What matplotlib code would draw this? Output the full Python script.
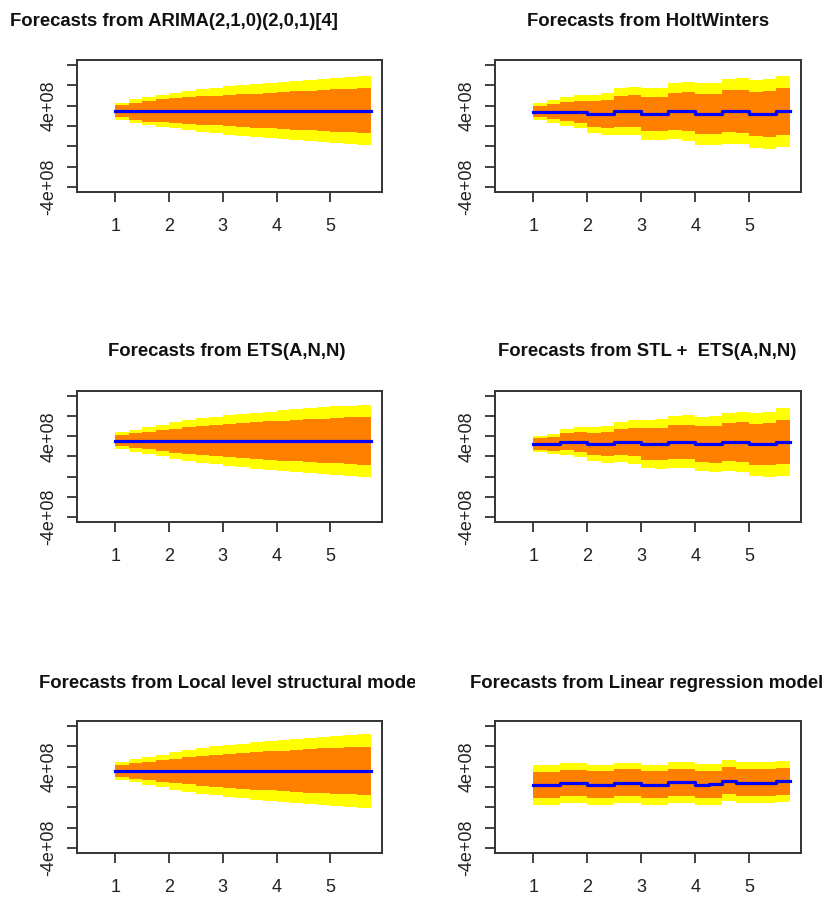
import numpy as np
import matplotlib
matplotlib.use("Agg")
import matplotlib.pyplot as plt
from matplotlib.transforms import Bbox, TransformedBbox

plt.rcParams['font.family'] = ['Liberation Sans', 'DejaVu Sans']

# forecast horizon: quarterly steps, values in units of 1e8
quarters = np.arange(1, 5.75, 0.25)
quarter_end = 5.75

titles = [
    "Forecasts from ARIMA(2,1,0)(2,0,1)[4]",
    "Forecasts from HoltWinters",
    "Forecasts from ETS(A,N,N)",
    "Forecasts from STL +  ETS(A,N,N)",
    "Forecasts from Local level structural model",
    "Forecasts from Linear regression model",
]

arima_mean = [3.44, 3.44, 3.44, 3.52, 3.52, 3.52, 3.52, 3.52, 3.52, 3.52,
              3.52, 3.52, 3.52, 3.52, 3.52, 3.52, 3.52, 3.52, 3.52]
arima_hw80 = [0.59, 0.84, 1.00, 1.12, 1.22, 1.32, 1.40, 1.47, 1.54, 1.60,
              1.67, 1.73, 1.79, 1.87, 1.94, 2.01, 2.07, 2.14, 2.21]
arima_hw95 = [0.86, 1.17, 1.39, 1.57, 1.74, 1.93, 2.08, 2.22, 2.36, 2.46,
              2.57, 2.67, 2.78, 2.88, 2.97, 3.07, 3.16, 3.26, 3.35]

hw_mean = [3.42, 3.42, 3.42, 3.42, 3.18, 3.18, 3.45, 3.45, 3.18, 3.18,
           3.45, 3.45, 3.18, 3.18, 3.45, 3.45, 3.18, 3.18, 3.45]
hw_hw80 = [0.54, 0.72, 0.92, 1.08, 1.23, 1.33, 1.50, 1.55, 1.66, 1.69,
           1.80, 1.90, 1.96, 1.99, 2.08, 2.12, 2.19, 2.24, 2.29]
hw_hw95 = [0.82, 1.10, 1.40, 1.66, 1.88, 2.04, 2.29, 2.37, 2.54, 2.58,
           2.75, 2.90, 3.00, 3.05, 3.19, 3.25, 3.35, 3.43, 3.50]

ets_mean = [3.57] * 19
ets_hw80 = [0.54, 0.71, 0.87, 1.04, 1.19, 1.33, 1.45, 1.56, 1.66, 1.74,
            1.82, 1.90, 1.97, 2.05, 2.11, 2.18, 2.24, 2.31, 2.38]
ets_hw95 = [0.82, 1.08, 1.32, 1.57, 1.80, 2.02, 2.20, 2.36, 2.52, 2.63,
            2.76, 2.88, 2.99, 3.10, 3.20, 3.30, 3.39, 3.47, 3.55]

stl_mean = [3.22, 3.22, 3.44, 3.44, 3.22, 3.22, 3.44, 3.44, 3.22, 3.22,
            3.44, 3.44, 3.22, 3.22, 3.44, 3.44, 3.22, 3.22, 3.44]
stl_hw80 = [0.57, 0.68, 0.84, 0.98, 1.10, 1.19, 1.31, 1.41, 1.57, 1.60,
            1.67, 1.71, 1.77, 1.82, 1.90, 1.95, 2.03, 2.09, 2.20]
stl_hw95 = [0.82, 1.02, 1.28, 1.50, 1.68, 1.82, 2.00, 2.15, 2.40, 2.45,
            2.55, 2.62, 2.70, 2.78, 2.90, 2.98, 3.10, 3.20, 3.37]

struct_mean = [3.58] * 19
struct_hw80 = [0.60, 0.75, 0.90, 1.05, 1.20, 1.33, 1.45, 1.56, 1.66, 1.75,
               1.84, 1.92, 2.00, 2.07, 2.13, 2.20, 2.26, 2.30, 2.35]
struct_hw95 = [0.87, 1.12, 1.36, 1.60, 1.83, 2.04, 2.22, 2.40, 2.56, 2.68,
               2.82, 2.94, 3.06, 3.17, 3.27, 3.37, 3.46, 3.55, 3.64]

lm_mean = [2.21, 2.21, 2.40, 2.40, 2.22, 2.22, 2.42, 2.42, 2.22, 2.22,
           2.45, 2.45, 2.24, 2.26, 2.62, 2.42, 2.42, 2.42, 2.56]
lm_hw80 = [1.31, 1.31, 1.31, 1.31, 1.31, 1.31, 1.31, 1.32, 1.31, 1.32,
           1.32, 1.32, 1.32, 1.33, 1.33, 1.33, 1.33, 1.34, 1.34]
lm_hw95 = [1.97, 1.97, 1.96, 1.96, 1.97, 1.97, 1.97, 1.98, 1.97, 1.98,
           1.98, 1.98, 1.98, 1.99, 1.99, 1.99, 1.99, 2.00, 2.00]

panels = [
    (arima_mean, arima_hw80, arima_hw95),
    (hw_mean, hw_hw80, hw_hw95),
    (ets_mean, ets_hw80, ets_hw95),
    (stl_mean, stl_hw80, stl_hw95),
    (struct_mean, struct_hw80, struct_hw95),
    (lm_mean, lm_hw80, lm_hw95),
]

yticks = [-4e8, -2e8, 0, 2e8, 4e8, 6e8, 8e8]
ytick_labels = ["-4e+08", "", "", "", "4e+08", "", ""]

W, H = 830, 897
fig = plt.figure(figsize=(W / 100, H / 100), dpi=100)

# plot boxes in pixels: (left, right) and (top, bottom)
col_x = [(77, 382), (495, 801)]
row_y = [(60, 192), (391, 522), (721, 853)]
title_x = [174, 648, 227, 647, 230, 647]
title_base = [26, 356, 688]

for i, (mean, hw80, hw95) in enumerate(panels):
    r, c = divmod(i, 2)
    x0, x1 = col_x[c]
    y0, y1 = row_y[r]
    ax = fig.add_axes([x0 / W, 1 - y1 / H, (x1 - x0) / W, (y1 - y0) / H])

    x = np.append(quarters, quarter_end)
    m = np.append(mean, mean[-1]) * 1e8
    h80 = np.append(hw80, hw80[-1]) * 1e8
    h95 = np.append(hw95, hw95[-1]) * 1e8
    ax.fill_between(x, m - h95, m + h95, step='post', color='#FFFF00', lw=0)
    ax.fill_between(x, m - h80, m + h80, step='post', color='#FF8000', lw=0)
    ax.step(x, m, where='post', color='#0000FF', lw=2.3)

    ax.set_xlim(0.29, 5.96)
    ax.set_ylim(-4.48e8, 8.48e8)
    ax.set_xticks([1, 2, 3, 4, 5])
    ax.set_xticklabels(["1", "2", "3", "4", "5"], fontsize=13, color='#222222')
    ax.set_yticks(yticks)
    ax.set_yticklabels(ytick_labels, fontsize=13, color='#222222',
                       rotation=90, va='center')
    ax.tick_params(axis='both', direction='out', length=7, width=1.3,
                   color='#333333')
    ax.tick_params(axis='x', pad=12)
    ax.tick_params(axis='y', pad=7)
    for s in ax.spines.values():
        s.set_linewidth(1.4)
        s.set_color('#333333')

    t = fig.text(title_x[i] / W, 1 - title_base[r] / H, titles[i],
                 ha='center', va='baseline', fontsize=13.3,
                 fontweight='bold', color='#111111')
    # titles are cut at the edge of their own column
    t.set_clip_on(True)
    t.set_clip_box(TransformedBbox(Bbox([[c * 0.5, 0], [c * 0.5 + 0.5, 1]]),
                                   fig.transFigure))

fig.savefig("out.png", dpi=100)
